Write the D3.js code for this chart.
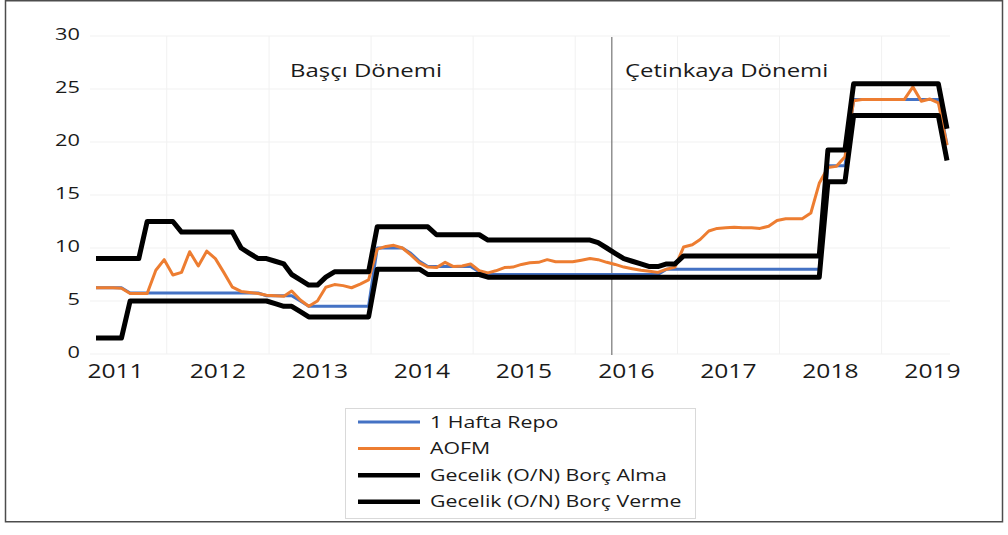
<!DOCTYPE html>
<html lang="tr">
<head>
<meta charset="utf-8">
<script src="https://d3js.org/d3.v7.min.js"></script>
<title>TCMB faiz koridoru 2011-2019</title>
<style>
  body { margin:0; background:#fff; }
  text { font-family:"Open Sans", sans-serif; fill:#1a1a1a; }
  .grid { stroke:#f1f1f1; stroke-width:1; }
  .series { fill:none; stroke-linejoin:round; }
</style>
</head>
<body>
<script>
var width = 1008, height = 535;

// aylik gozlemler: Nisan 2011 - Agustos 2019
var months = d3.timeMonth.range(new Date(2011, 3, 1), new Date(2019, 8, 1));
var years = [2011, 2012, 2013, 2014, 2015, 2016, 2017, 2018, 2019];
var yTicks = [0, 5, 10, 15, 20, 25, 30];

var repo = [6.25, 6.25, 6.25, 6.25,
  5.75, 5.75, 5.75, 5.75, 5.75, 5.75, 5.75, 5.75, 5.75, 5.75, 5.75, 5.75, 5.75, 5.75, 5.75, 5.75,
  5.5, 5.5, 5.5, 5.5, 5.0,
  4.5, 4.5, 4.5, 4.5, 4.5, 4.5, 4.5, 4.5,
  10, 10, 10, 10, 9.5, 8.75,
  8.25, 8.25, 8.25, 8.25, 8.25, 8.25, 7.75,
  7.5, 7.5, 7.5, 7.5, 7.5, 7.5, 7.5, 7.5, 7.5, 7.5, 7.5, 7.5, 7.5, 7.5, 7.5, 7.5, 7.5, 7.5, 7.5, 7.5, 7.5,
  8, 8, 8, 8, 8, 8, 8, 8, 8, 8, 8, 8, 8, 8, 8, 8, 8, 8, 8,
  17.75, 17.75, 17.75,
  24, 24, 24, 24, 24, 24, 24, 24, 24, 24, 24,
  19.75];

var aofm = [6.25, 6.25, 6.25, 6.2, 5.7, 5.7, 5.7, 7.9, 8.9, 7.45, 7.7, 9.65, 8.3, 9.7, 9.0, 7.7, 6.3,
  5.9, 5.8, 5.7, 5.55, 5.5, 5.45, 5.95, 5.1, 4.5, 5.0, 6.3, 6.55, 6.45, 6.25, 6.6, 7.0,
  9.9, 10.15, 10.25, 10.0, 9.35, 8.6, 8.2, 8.15, 8.65, 8.25, 8.3, 8.5, 7.85, 7.65, 7.85, 8.15, 8.2, 8.45,
  8.6, 8.65, 8.9, 8.7, 8.7, 8.7, 8.85, 9.0, 8.9, 8.65, 8.45, 8.2, 8.05, 7.9, 7.8, 7.7, 8.0, 8.2,
  10.1, 10.3, 10.8, 11.6, 11.85, 11.9, 11.95, 11.9, 11.9, 11.85, 12.05, 12.6, 12.75, 12.75, 12.75, 13.3, 16.1,
  17.6, 17.7, 18.6, 23.9, 24.0, 24.0, 24.0, 24.0, 24.0, 24.0, 25.2, 23.85, 24.05, 23.7, 19.7];

var borcAlma = [1.5, 1.5, 1.5, 1.5,
  5, 5, 5, 5, 5, 5, 5, 5, 5, 5, 5, 5, 5, 5, 5, 5, 5,
  4.75, 4.5, 4.5, 4.0,
  3.5, 3.5, 3.5, 3.5, 3.5, 3.5, 3.5, 3.5,
  8, 8, 8, 8, 8, 8,
  7.5, 7.5, 7.5, 7.5, 7.5, 7.5, 7.5,
  7.25, 7.25, 7.25, 7.25, 7.25, 7.25, 7.25, 7.25, 7.25, 7.25, 7.25, 7.25, 7.25, 7.25, 7.25, 7.25, 7.25, 7.25, 7.25, 7.25,
  7.25, 7.25, 7.25, 7.25, 7.25, 7.25, 7.25, 7.25, 7.25, 7.25, 7.25, 7.25, 7.25, 7.25, 7.25, 7.25, 7.25, 7.25, 7.25, 7.25,
  16.25, 16.25, 16.25,
  22.5, 22.5, 22.5, 22.5, 22.5, 22.5, 22.5, 22.5, 22.5, 22.5, 22.5,
  18.25];

var borcVerme = [9, 9, 9, 9, 9, 9,
  12.5, 12.5, 12.5, 12.5,
  11.5, 11.5, 11.5, 11.5, 11.5, 11.5, 11.5,
  10.0, 9.5, 9.0, 9.0, 8.75, 8.5, 7.5, 7.0, 6.5, 6.5, 7.25,
  7.75, 7.75, 7.75, 7.75, 7.75,
  12, 12, 12, 12, 12, 12, 12,
  11.25, 11.25, 11.25, 11.25, 11.25, 11.25,
  10.75, 10.75, 10.75, 10.75, 10.75, 10.75, 10.75, 10.75, 10.75, 10.75, 10.75, 10.75, 10.75,
  10.5, 10.0, 9.5, 9.0, 8.75, 8.5, 8.25, 8.25, 8.5, 8.5,
  9.25, 9.25, 9.25, 9.25, 9.25, 9.25, 9.25, 9.25, 9.25, 9.25, 9.25, 9.25, 9.25, 9.25, 9.25, 9.25, 9.25,
  19.25, 19.25, 19.25,
  25.5, 25.5, 25.5, 25.5, 25.5, 25.5, 25.5, 25.5, 25.5, 25.5, 25.5,
  21.25];

var seriesNames = ["1 Hafta Repo", "AOFM", "Gecelik (O/N) Borç Alma", "Gecelik (O/N) Borç Verme"];
var seriesColors = ["#4472c4", "#ed7d31", "#000000", "#000000"];
var seriesWidths = [3, 3, 5, 5];
var seriesValues = [repo, aofm, borcAlma, borcVerme];
var periods = [{label: "Başçı Dönemi", x: 290}, {label: "Çetinkaya Dönemi", x: 625}];
var changeDate = new Date(2016, 3, 19);

var x = d3.scaleTime().domain([months[0], months[months.length - 1]]).range([96, 947]);
var y = d3.scaleLinear().domain([0, 30]).range([354, 36]);

// gorsel yatayda gerilmis, yazilari da ayni oranda genislet
function stretch(sel, k) {
  sel.each(function() {
    var w = this.getComputedTextLength();
    d3.select(this).attr("textLength", w * k).attr("lengthAdjust", "spacingAndGlyphs");
  });
}

var svg = d3.select("body").append("svg")
  .attr("width", width)
  .attr("height", height);

svg.append("rect")
  .attr("x", 5.5).attr("y", 0.75)
  .attr("width", 997).attr("height", 521)
  .attr("fill", "#fff").attr("stroke", "#4d4d4d").attr("stroke-width", 1.5);

// izgara
svg.selectAll(".hgrid").data(yTicks).enter().append("line")
  .attr("class", "grid")
  .attr("x1", 90).attr("x2", 950)
  .attr("y1", function(d) { return y(d); })
  .attr("y2", function(d) { return y(d); });

svg.selectAll(".vgrid").data(years.slice(0, -1)).enter().append("line")
  .attr("class", "grid")
  .attr("x1", function(d) { return x(new Date(d, 11, 10)); })
  .attr("x2", function(d) { return x(new Date(d, 11, 10)); })
  .attr("y1", y(30)).attr("y2", y(0));

// eksen yazilari
svg.selectAll(".ylab").data(yTicks).enter().append("text")
  .attr("x", 80)
  .attr("y", function(d) { return y(d) + 3.5; })
  .attr("text-anchor", "end")
  .style("font-size", "17px")
  .text(function(d) { return d; })
  .call(stretch, 1.28);

svg.selectAll(".xlab").data(years).enter().append("text")
  .attr("x", function(d) { return x(new Date(d, 5, 10)); })
  .attr("y", 378)
  .attr("text-anchor", "middle")
  .style("font-size", "20.5px")
  .text(function(d) { return d; })
  .call(stretch, 1.2);

// baskan degisimi
svg.append("line")
  .attr("x1", x(changeDate)).attr("x2", x(changeDate))
  .attr("y1", 37).attr("y2", 355)
  .attr("stroke", "#7f7f7f").attr("stroke-width", 1.3);

svg.selectAll(".period").data(periods).enter().append("text")
  .attr("x", function(d) { return d.x; })
  .attr("y", 77)
  .style("font-size", "19px")
  .text(function(d) { return d.label; })
  .call(stretch, 1.26);

var line = d3.line()
  .x(function(d, i) { return x(months[i]); })
  .y(function(d) { return y(d); });

svg.selectAll(".series").data(seriesValues).enter().append("path")
  .attr("class", "series")
  .attr("d", function(d) { return line(d); })
  .attr("stroke", function(d, i) { return seriesColors[i]; })
  .attr("stroke-width", function(d, i) { return seriesWidths[i]; });

// lejant
var legend = svg.append("g");
legend.append("rect")
  .attr("x", 345.5).attr("y", 408.5)
  .attr("width", 350).attr("height", 110)
  .attr("fill", "#fff").attr("stroke", "#d9d9d9");

var rows = legend.selectAll(".row").data(seriesNames).enter().append("g")
  .attr("transform", function(d, i) { return "translate(0," + (422 + i * 26.6) + ")"; });

rows.append("line")
  .attr("x1", 358).attr("x2", 420)
  .attr("stroke", function(d, i) { return seriesColors[i]; })
  .attr("stroke-width", function(d, i) { return i < 2 ? 3 : 4.5; });

rows.append("text")
  .attr("x", 430).attr("y", 5.5)
  .style("font-size", "16px")
  .text(function(d) { return d; })
  .call(stretch, 1.33);
</script>
</body>
</html>
